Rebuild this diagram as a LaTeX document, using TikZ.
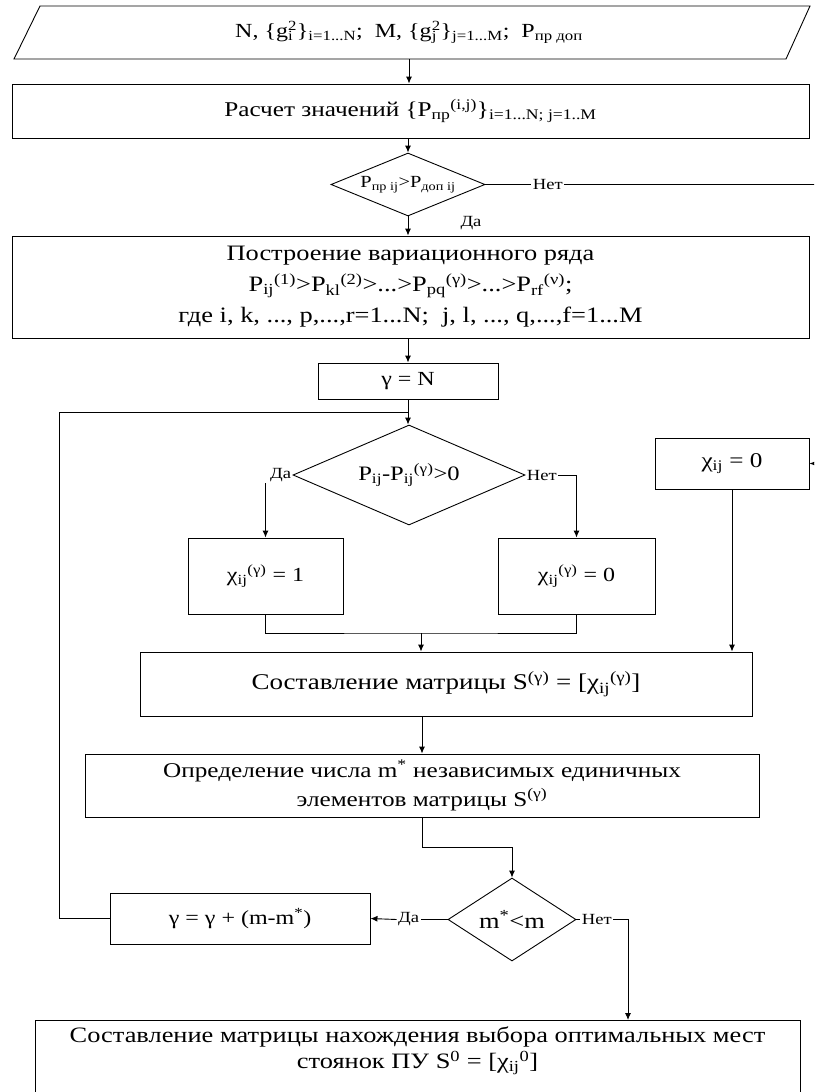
\documentclass[tikz,border=0pt]{standalone}
\usepackage{fontspec}
\setmainfont{Liberation Serif}[FakeStretch=1.2]
\usetikzlibrary{shapes.geometric,arrows.meta}
\newcommand\stk[2]{\makebox[0pt][l]{\textsubscript{#1}}\textsuperscript{#2}}
\tikzset{
  fsz/.style 2 args={font=\fontsize{#1pt}{#2pt}\selectfont},
  every node/.style={inner sep=0pt},
  box/.style={draw, rectangle, align=center},
  dia/.style={draw, diamond},
  lbl/.style={fsz={15.5}{18}, inner sep=1pt},
  conn/.style={draw, line width=0.9pt},
  arr/.style={conn, -{Latex[length=7pt,width=6pt]}},
}
\begin{document}
\begin{tikzpicture}[x=1pt,y=-1pt, line width=0.9pt]
\useasboundingbox (0,0) rectangle (814,1092);
\clip (0,0) rectangle (814,1092);
% input parallelogram
\draw (40,6) -- (810,6) -- (786,59) -- (14,59) -- cycle;
\node[fsz={20}{24}, minimum width=700pt, minimum height=53pt] (in) at (409,32.5)
  {N, \{g\stk{i}{2}\}\textsubscript{i=1...N};\ \ M, \{g\stk{j}{2}\}\textsubscript{j=1...M};\ \ P\textsubscript{пр доп}};
\node[box, fsz={21}{25}, minimum width=797pt, minimum height=54pt] (b1) at (410.5,111)
  {Расчет значений \{P\textsubscript{пр}\textsuperscript{(i,j)}\}\textsubscript{i=1...N; j=1..M}};
\node[dia, minimum width=154pt, minimum height=63pt] (d1) at (408,184.5) {};
\node[fsz={17}{20}] (d1t) at (d1.center) {P\textsubscript{пр ij}>P\textsubscript{доп ij}};
\node[box, fsz={22}{31}, minimum width=797pt, minimum height=102pt] (b2) at (410.5,287)
  {Построение вариационного ряда\\
   P\textsubscript{ij}\textsuperscript{(1)}>P\textsubscript{kl}\textsuperscript{(2)}>...>P\textsubscript{pq}\textsuperscript{(γ)}>...>P\textsubscript{rf}\textsuperscript{(ν)};\\
   где i, k, ..., p,...,r=1...N;\ \ j, l, ..., q,...,f=1...M};
\node[box, fsz={20}{24}, minimum width=180pt, minimum height=36pt] (gN) at (408,381) {γ = N};
\node[dia, minimum width=232pt, minimum height=100pt] (d2) at (409,475) {};
\node[fsz={20.5}{24}] (d2t) at (d2.center) {P\textsubscript{ij}-P\textsubscript{ij}\textsuperscript{(γ)}>0};
\node[box, fsz={20}{24}, minimum width=155pt, minimum height=76pt] (c1) at (265.5,576) {χ\textsubscript{ij}\textsuperscript{(γ)} = 1};
\node[box, fsz={20}{24}, minimum width=157pt, minimum height=76pt] (c0) at (576.5,576) {χ\textsubscript{ij}\textsuperscript{(γ)} = 0};
\node[box, fsz={21}{24}, minimum width=154pt, minimum height=51pt] (cz) at (732,463.5) {χ\textsubscript{ij} = 0};
\node[box, fsz={22.5}{26}, minimum width=612pt, minimum height=64pt] (bS) at (446,684)
  {Составление матрицы S\textsuperscript{(γ)} = [χ\textsubscript{ij}\textsuperscript{(γ)}]};
\node[box, fsz={21}{29}, minimum width=674pt, minimum height=63pt] (bO) at (422,785.5)
  {Определение числа m\textsuperscript{*} независимых единичных\\ элементов матрицы S\textsuperscript{(γ)}};
\node[dia, minimum width=128pt, minimum height=83pt] (d3) at (512,919.5) {};
\node[fsz={22}{25}] (d3t) at (d3.center) {m\textsuperscript{*}<m};
\node[box, fsz={20}{23}, minimum width=260pt, minimum height=51pt] (gU) at (240,918.5) {γ = γ + (m-m\textsuperscript{*})};
\node[box, minimum width=765pt, minimum height=140pt, anchor=north] (bF) at (417.5,1020) {};
\node[fsz={22}{26}, align=center] (bFt) at (417.5,1051)
  {Составление матрицы нахождения выбора оптимальных мест\\ стоянок ПУ S\textsuperscript{0} = [χ\textsubscript{ij}\textsuperscript{0}]};
% labels
\node[lbl] (l1) at (471,223) {Да};
\node[lbl, anchor=west] (n1) at ([xshift=46pt]d1.east) {Нет};
\node[lbl, anchor=east] (l2) at (d2.west) {Да};
\node[lbl, anchor=west] (n2) at (d2.east) {Нет};
\node[lbl, anchor=east] (l3) at ([xshift=-27pt]d3.west) {Да};
\node[lbl, anchor=west] (n4) at ([xshift=4pt]d3.east) {Нет};
\coordinate (rt) at (830,184.5);
\coordinate (j1) at (408,412);
\coordinate (j2) at (421,633);
\coordinate (bt) at (628,1020);
% connectors
\draw[arr] (in.south) -- (in.south |- b1.north);
\draw[arr] (b1.south -| d1.north) -- (d1.north);
\draw[arr] (d1.south) -- (d1.south |- b2.north);
\draw[conn] (d1.east) -- (n1.west);
\draw[arr] (n1.east) -- (rt) |- (cz.east);
\draw[arr] (b2.south -| gN.north) -- (gN.north);
\draw[arr] (gN.south) -- (d2.north -| gN.south);
\draw[conn] (gU.west) -- (59,918.5) |- (j1);
\draw[arr] (c1.north |- l2.south) -- (c1.north);
\draw[conn] (d3.east) -- (n4.west);
\draw[arr] (n2.east) -| (c0.north);
\draw[conn] (c1.south) |- (j2) -| (c0.south);
\draw[arr] (j2) -- (j2 |- bS.north);
\draw[arr] (cz.south) -- (cz.south |- bS.north);
\draw[arr] (bS.south -| bO.north) -- (bO.north);
\draw[arr] (bO.south) -- ++(0,30) -| (d3.north);
\draw[conn] (d3.west) -- (l3.east);
\draw[arr] (l3.west) -- (gU.east);
\draw[arr] (n4.east) -| (bt);
\end{tikzpicture}
\end{document}
